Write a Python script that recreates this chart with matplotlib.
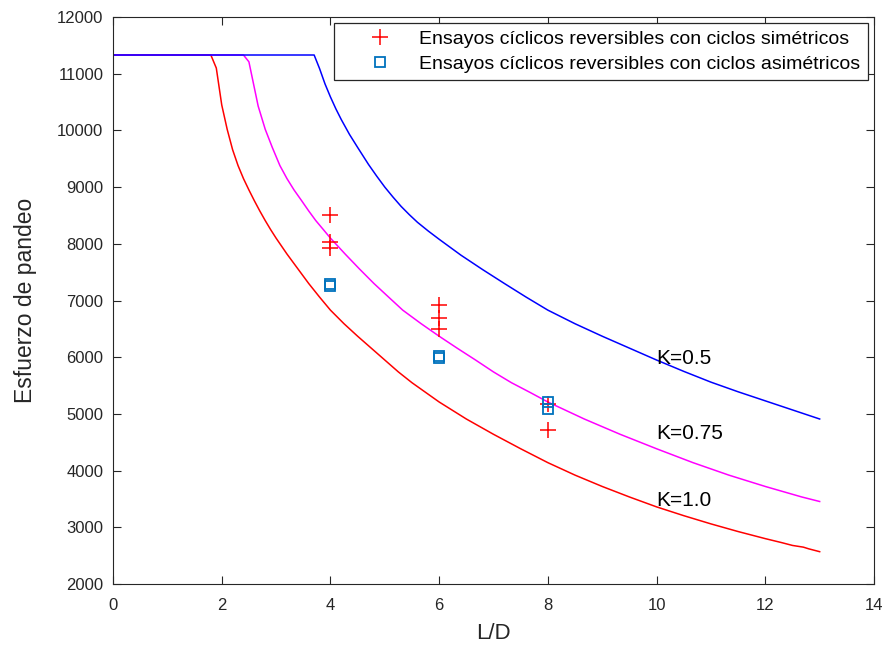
import numpy as np
import matplotlib
matplotlib.use("Agg")
import matplotlib.pyplot as plt

plt.rcParams['font.family'] = ['Liberation Sans', 'DejaVu Sans']

# curves (L/D, esfuerzo)
x_k10 = [0, 1.80, 1.90, 2.0, 2.1, 2.2, 2.3, 2.4, 2.5, 2.6, 2.7, 2.8, 2.9, 3.0, 3.2, 3.4,
         3.6, 3.8, 4.0, 4.25, 4.5, 4.75, 5.0, 5.25, 5.5, 5.75, 6.0, 6.5, 7.0, 7.5, 8.0,
         8.5, 9.0, 9.5, 10.0, 10.5, 11.0, 11.5, 12.0, 12.3, 12.5, 12.7, 12.8, 13.0]
y_k10 = [11330, 11330, 11100, 10450, 10020, 9660, 9380, 9150, 8950, 8760, 8580, 8410,
         8250, 8100, 7820, 7560, 7300, 7060, 6830, 6590, 6370, 6160, 5950, 5740, 5550,
         5380, 5210, 4910, 4640, 4385, 4140, 3920, 3720, 3535, 3360, 3205, 3060, 2925,
         2800, 2730, 2680, 2650, 2620, 2570]

x_k075 = [0, 2.40, 2.50, 2.67, 2.8, 2.93, 3.07, 3.2, 3.33, 3.47, 3.6, 3.73, 3.87, 4.0,
          4.27, 4.53, 4.8, 5.07, 5.33, 5.67, 6.0, 6.33, 6.67, 7.0, 7.33, 7.67, 8.0, 8.67,
          9.33, 10.0, 10.67, 11.33, 12.0, 12.67, 13.0]
y_k075 = [11330, 11330, 11210, 10430, 10020, 9700, 9380, 9150, 8950, 8760, 8580, 8410,
          8250, 8100, 7820, 7560, 7300, 7060, 6830, 6590, 6370, 6160, 5950, 5740, 5550,
          5380, 5210, 4910, 4640, 4385, 4140, 3920, 3720, 3535, 3455]

x_k05 = [0, 3.70, 3.80, 3.90, 4.0, 4.1, 4.2, 4.35, 4.5, 4.7, 4.85, 5.0, 5.15, 5.3, 5.45,
         5.6, 5.8, 6.0, 6.4, 6.8, 7.2, 7.6, 8.0, 8.5, 9.0, 9.5, 10.0, 10.5, 11.0, 11.5,
         12.0, 12.5, 13.0]
y_k05 = [11330, 11330, 11090, 10820, 10590, 10380, 10190, 9930, 9700, 9400, 9195, 9000,
         8825, 8660, 8515, 8380, 8225, 8080, 7800, 7545, 7300, 7060, 6830, 6590, 6370,
         6160, 5950, 5750, 5560, 5390, 5230, 5070, 4910]

# ensayos
x_sim = [4, 4, 4, 6, 6, 6, 8, 8]
y_sim = [8500, 8040, 7930, 6920, 6700, 6500, 5170, 4720]
x_asim = [4, 4, 6, 6, 8, 8]
y_asim = [7260, 7290, 6030, 5980, 5210, 5080]

fig = plt.figure(figsize=(8.85, 6.52), dpi=100)
ax = fig.add_axes([0.1277, 0.1043, 0.8599, 0.8696])

ax.plot(x_k10, y_k10, color='#ff0000', lw=1.1)
ax.plot(x_k075, y_k075, color='#ff00ff', lw=1.1)
ax.plot(x_k05, y_k05, color='#0000ff', lw=1.1)
h1, = ax.plot(x_sim, y_sim, '+', color='#ff0000', ms=12, mew=1.1, ls='none')
h2, = ax.plot(x_asim, y_asim, 's', mfc='none', mec='#0072BD', ms=7, mew=1.3, ls='none')

ax.text(10.0, 5980, 'K=0.5', fontsize=15, va='center')
ax.text(10.0, 4660, 'K=0.75', fontsize=15, va='center')
ax.text(10.0, 3480, 'K=1.0', fontsize=15, va='center')

ax.set_xlim(0, 14)
ax.set_ylim(2000, 12000)
ax.set_xticks(np.arange(0, 15, 2))
ax.set_yticks(np.arange(2000, 12001, 1000))
ax.tick_params(direction='in', top=True, right=True, length=6, labelsize=12, colors='#262626')
ax.tick_params(axis='x', pad=10)
ax.tick_params(axis='y', pad=7)
for s in ax.spines.values():
    s.set_color('#262626')
ax.set_xlabel('L/D', fontsize=16, color='#262626', labelpad=7)
ax.set_ylabel('Esfuerzo de pandeo', fontsize=16.5, color='#262626', labelpad=14)

leg = ax.legend([h1, h2], ['Ensayos cíclicos reversibles con ciclos simétricos',
                           'Ensayos cíclicos reversibles con ciclos asimétricos'],
                loc='upper right', fontsize=14, fancybox=False, edgecolor='#262626',
                framealpha=1, borderaxespad=0.3, borderpad=0.4, handlelength=3.9,
                handletextpad=0.07, labelspacing=0.35)
leg.get_frame().set_linewidth(0.9)

fig.savefig('out.png', dpi=100)
